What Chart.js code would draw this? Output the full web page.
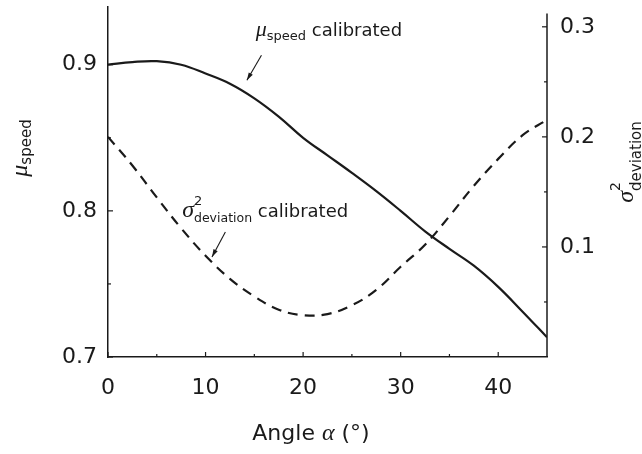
<!DOCTYPE html>
<html>
<head>
  <meta charset="UTF-8" />
  <title>Calibrated speed and deviation vs angle</title>
  <script src="https://cdn.jsdelivr.net/npm/chart.js"></script>
  <style>
    html, body { margin: 0; padding: 0; background: #fff; }
    #wrap { width: 642px; height: 454px; }
  </style>
</head>
<body>
  <div id="wrap"><canvas id="angleChart" width="642" height="454"></canvas></div>

  <script>
    // data
    const angles = [0, 2.5, 5, 7.5, 10, 12.5, 15, 17.5, 20, 22.5, 25, 27.5, 30, 32.5, 35, 37.5, 40, 42.5, 45];
    const speedMean = [0.900, 0.9018, 0.9024, 0.9000, 0.894, 0.887, 0.877, 0.8645, 0.850, 0.838, 0.826, 0.8135, 0.800, 0.786, 0.774, 0.7625, 0.748, 0.731, 0.7135];
    const deviationVar = [0.200, 0.174, 0.145, 0.117, 0.092, 0.071, 0.055, 0.043, 0.038, 0.039, 0.047, 0.061, 0.082, 0.102, 0.128, 0.1555, 0.180, 0.2015, 0.2155];

    const xTicks = [0, 10, 20, 30, 40];
    const xMinor = [5, 15, 25, 35];
    const leftTicks = [0.7, 0.8, 0.9];
    const leftMinor = [0.75, 0.85];
    const rightTicks = [0.1, 0.2, 0.3];
    const rightMinor = [0.05, 0.15, 0.25];

    const INK = '#1a1a1a';
    const SANS = '"DejaVu Sans", sans-serif';
    const GREEK = '"Liberation Serif", serif';

    // draws [text, font, dy, noAdvance] pieces one after another
    function richText(ctx, parts, x, y, align) {
      let w = 0;
      parts.forEach(p => { ctx.font = p[1]; if (!p[3]) w += ctx.measureText(p[0]).width; });
      let cx = align === 'center' ? x - w / 2 : x;
      parts.forEach(p => {
        ctx.font = p[1];
        ctx.fillText(p[0], cx, y + (p[2] || 0));
        if (!p[3]) cx += ctx.measureText(p[0]).width;
      });
    }

    function arrow(ctx, x0, y0, x1, y1) {
      ctx.beginPath(); ctx.moveTo(x0, y0); ctx.lineTo(x1, y1); ctx.stroke();
      const a = Math.atan2(y1 - y0, x1 - x0);
      ctx.beginPath();
      ctx.moveTo(x1, y1);
      ctx.lineTo(x1 - 8 * Math.cos(a - 0.3), y1 - 8 * Math.sin(a - 0.3));
      ctx.lineTo(x1 - 8 * Math.cos(a + 0.3), y1 - 8 * Math.sin(a + 0.3));
      ctx.closePath(); ctx.fill();
    }

    // fixed scale sizes, no extra label padding from the layout
    function fixBox(w, h) {
      return s => {
        if (w) s.width = w;
        if (h) s.height = h;
        s.paddingTop = 0; s.paddingBottom = 0; s.paddingLeft = 0; s.paddingRight = 0;
      };
    }

    const decor = {
      id: 'decor',
      afterDraw(chart) {
        const { ctx, chartArea: a, scales } = chart;
        const x = scales.x, y = scales.y, y1 = scales.y1;
        ctx.save();
        ctx.strokeStyle = INK; ctx.fillStyle = INK;

        // right axis line and inward ticks
        ctx.lineWidth = 1.5;
        ctx.beginPath();
        ctx.moveTo(a.right, y1.getPixelForValue(0));
        ctx.lineTo(a.right, y1.getPixelForValue(0.312));
        ctx.stroke();
        ctx.lineWidth = 1.2;
        const seg = (ax, ay, bx, by) => { ctx.beginPath(); ctx.moveTo(ax, ay); ctx.lineTo(bx, by); ctx.stroke(); };
        xTicks.forEach(v => { const p = x.getPixelForValue(v); seg(p, a.bottom, p, a.bottom - 5); });
        xMinor.forEach(v => { const p = x.getPixelForValue(v); seg(p, a.bottom, p, a.bottom - 3); });
        leftTicks.forEach(v => { const p = y.getPixelForValue(v); seg(a.left, p, a.left + 5, p); });
        leftMinor.forEach(v => { const p = y.getPixelForValue(v); seg(a.left, p, a.left + 3, p); });
        rightTicks.forEach(v => { const p = y1.getPixelForValue(v); seg(a.right, p, a.right - 5, p); });
        rightMinor.forEach(v => { const p = y1.getPixelForValue(v); seg(a.right, p, a.right - 3, p); });

        ctx.textBaseline = 'alphabetic';
        ctx.textAlign = 'left';

        // x title
        richText(ctx, [
          ['Angle ', '22px ' + SANS],
          ['\u03b1', 'italic 24px ' + GREEK],
          [' (\u00b0)', '22px ' + SANS]
        ], 311, 440, 'center');

        // left title
        ctx.save();
        ctx.translate(27, 148);
        ctx.rotate(-Math.PI / 2);
        richText(ctx, [
          ['\u03bc', 'italic 24px ' + GREEK],
          ['speed', '15px ' + SANS, 4]
        ], 0, 0, 'center');
        ctx.restore();

        // right title
        ctx.save();
        ctx.translate(633, 162);
        ctx.rotate(-Math.PI / 2);
        richText(ctx, [
          ['\u03c3', 'italic 24px ' + GREEK],
          ['2', '14px ' + SANS, -13, true],
          ['deviation', '15px ' + SANS, 8]
        ], 0, 0, 'center');
        ctx.restore();

        // annotations
        ctx.lineWidth = 1.1;
        let px = x.getPixelForValue(15.14), py = y.getPixelForValue(0.9195);
        richText(ctx, [
          ['\u03bc', 'italic 22px ' + GREEK],
          ['speed', '13px ' + SANS, 4],
          [' calibrated', '18px ' + SANS]
        ], px, py, 'left');
        arrow(ctx, x.getPixelForValue(15.73), y.getPixelForValue(0.9065),
                   x.getPixelForValue(14.24), y.getPixelForValue(0.8894));

        px = x.getPixelForValue(7.6); py = y.getPixelForValue(0.7959);
        richText(ctx, [
          ['\u03c3', 'italic 24px ' + GREEK],
          ['2', '13px ' + SANS, -12, true],
          ['deviation', '12.5px ' + SANS, 5],
          [' calibrated', '18px ' + SANS]
        ], px, py, 'left');
        arrow(ctx, x.getPixelForValue(12.03), y.getPixelForValue(0.7856),
                   x.getPixelForValue(10.66), y.getPixelForValue(0.7685));

        ctx.restore();
      }
    };

    const ctx = document.getElementById('angleChart').getContext('2d');
    new Chart(ctx, {
      type: 'line',
      data: {
        datasets: [
          {
            label: 'mu speed calibrated',
            data: angles.map((a, i) => ({ x: a, y: speedMean[i] })),
            yAxisID: 'y',
            borderColor: INK,
            borderWidth: 2.2,
            pointRadius: 0,
            tension: 0.4,
            order: 0
          },
          {
            label: 'sigma2 deviation calibrated',
            data: angles.map((a, i) => ({ x: a, y: deviationVar[i] })),
            yAxisID: 'y1',
            borderColor: INK,
            borderWidth: 2.2,
            borderDash: [10, 7],
            pointRadius: 0,
            tension: 0.4,
            order: 1
          }
        ]
      },
      options: {
        responsive: false,
        animation: false,
        layout: { padding: { top: 7, left: 0, right: 0, bottom: 0 } },
        plugins: { legend: { display: false }, tooltip: { enabled: false } },
        scales: {
          x: {
            type: 'linear',
            min: 0, max: 45,
            grid: { display: false, drawTicks: false },
            border: { display: true, color: INK, width: 1.5 },
            afterBuildTicks: s => { s.ticks = xTicks.map(v => ({ value: v })); },
            afterFit: fixBox(0, 97),
            ticks: { color: INK, font: { family: SANS, size: 22 }, padding: 18, maxRotation: 0 }
          },
          y: {
            position: 'left',
            min: 0.7, max: 0.9395,
            grid: { display: false, drawTicks: false },
            border: { display: true, color: INK, width: 1.5 },
            afterBuildTicks: s => { s.ticks = leftTicks.map(v => ({ value: v })); },
            afterFit: fixBox(108, 0),
            ticks: { color: INK, font: { family: SANS, size: 22 }, padding: 11, callback: v => v.toFixed(1) }
          },
          y1: {
            position: 'right',
            min: 0, max: 0.318,
            grid: { display: false, drawTicks: false },
            border: { display: false },
            afterBuildTicks: s => { s.ticks = rightTicks.map(v => ({ value: v })); },
            afterFit: fixBox(95, 0),
            ticks: { color: INK, font: { family: SANS, size: 22 }, padding: 13, callback: v => v.toFixed(1) }
          }
        }
      },
      plugins: [decor]
    });
  </script>
</body>
</html>
